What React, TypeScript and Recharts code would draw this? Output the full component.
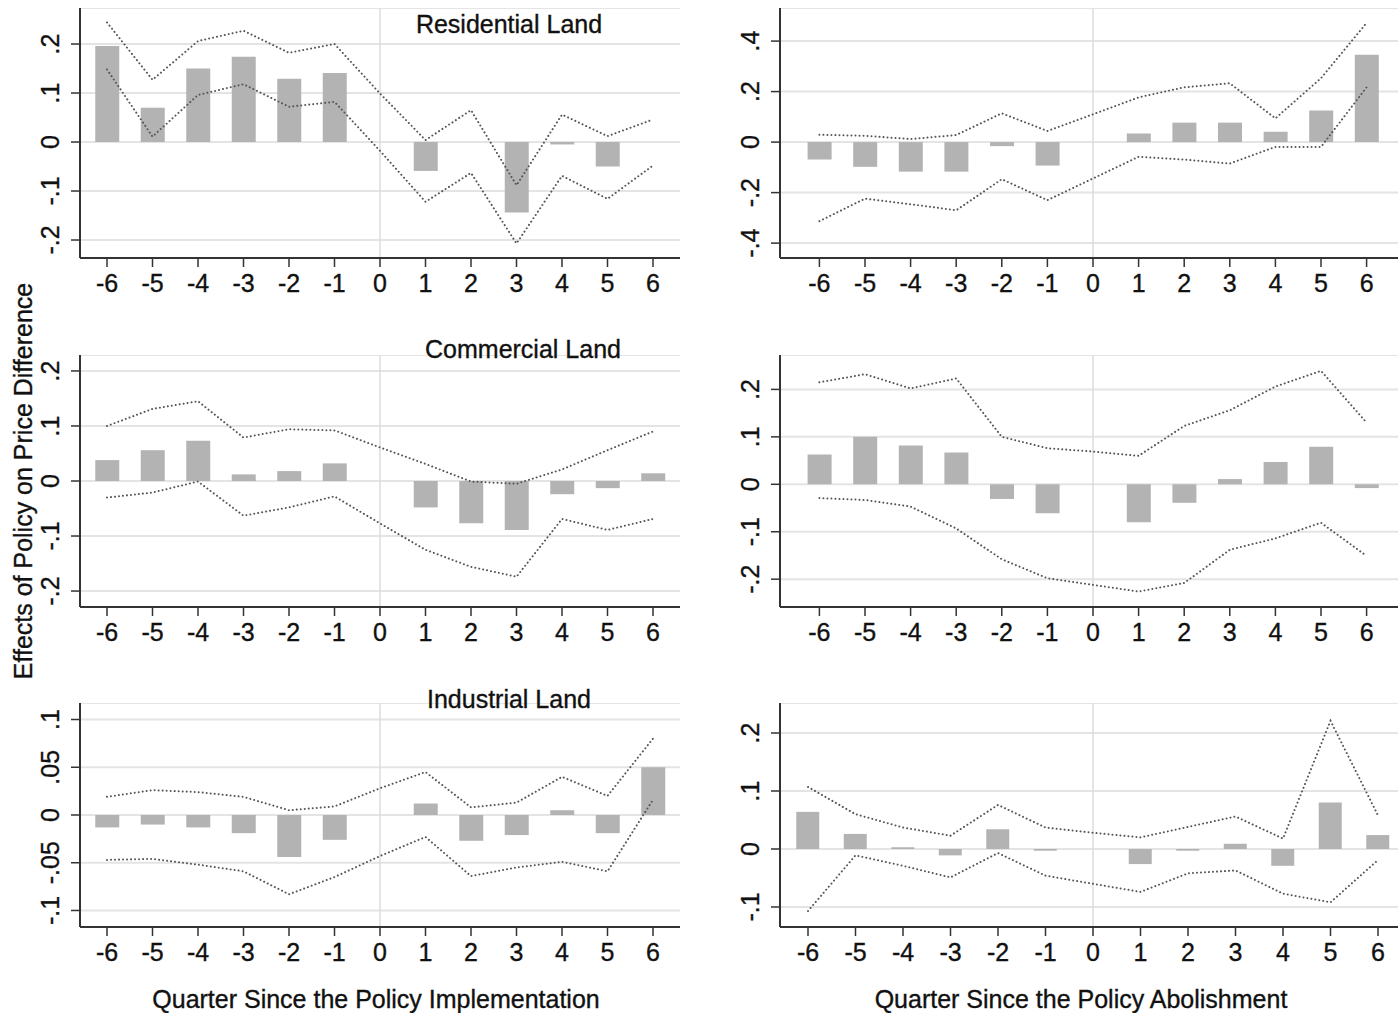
import React from 'react';
import { ComposedChart, Bar, Line, XAxis, YAxis, CartesianGrid, ReferenceLine } from 'recharts';

const quarters = [-6, -5, -4, -3, -2, -1, 0, 1, 2, 3, 4, 5, 6];

const resImplEst = [0.196, 0.070, 0.150, 0.174, 0.129, 0.141, null, -0.059, null, -0.144, -0.005, -0.050, null];
const resImplHi = [0.244, 0.127, 0.206, 0.227, 0.182, 0.200, 0.099, 0.004, 0.065, -0.088, 0.056, 0.012, 0.046];
const resImplLo = [0.148, 0.011, 0.096, 0.118, 0.072, 0.082, -0.018, -0.122, -0.063, -0.207, -0.069, -0.116, -0.048];

const resAbolEst = [-0.069, -0.098, -0.117, -0.117, -0.016, -0.093, null, 0.034, 0.077, 0.077, 0.041, 0.125, 0.346];
const resAbolHi = [0.029, 0.025, 0.012, 0.028, 0.114, 0.044, 0.110, 0.177, 0.217, 0.233, 0.094, 0.253, 0.472];
const resAbolLo = [-0.313, -0.224, -0.246, -0.270, -0.147, -0.230, -0.144, -0.058, -0.069, -0.085, -0.019, -0.019, 0.217];

const comImplEst = [0.038, 0.056, 0.073, 0.012, 0.018, 0.032, null, -0.048, -0.077, -0.089, -0.024, -0.013, 0.014];
const comImplHi = [0.100, 0.131, 0.145, 0.079, 0.094, 0.092, 0.061, 0.031, -0.001, -0.005, 0.021, 0.056, 0.090];
const comImplLo = [-0.030, -0.021, -0.001, -0.063, -0.048, -0.028, -0.077, -0.125, -0.156, -0.174, -0.069, -0.089, -0.069];

const comAbolEst = [0.063, 0.100, 0.082, 0.067, -0.031, -0.061, null, -0.080, -0.039, 0.011, 0.047, 0.079, -0.008];
const comAbolHi = [0.215, 0.232, 0.202, 0.223, 0.100, 0.076, 0.069, 0.060, 0.123, 0.156, 0.206, 0.239, 0.130];
const comAbolLo = [-0.029, -0.033, -0.047, -0.093, -0.158, -0.198, -0.212, -0.226, -0.208, -0.138, -0.114, -0.081, -0.151];

const indImplEst = [-0.013, -0.010, -0.013, -0.019, -0.044, -0.026, null, 0.012, -0.027, -0.021, 0.005, -0.019, 0.050];
const indImplHi = [0.019, 0.026, 0.024, 0.019, 0.005, 0.009, 0.028, 0.045, 0.008, 0.013, 0.040, 0.020, 0.080];
const indImplLo = [-0.047, -0.046, -0.052, -0.059, -0.083, -0.065, -0.043, -0.023, -0.064, -0.055, -0.049, -0.059, 0.016];

const indAbolEst = [0.064, 0.026, 0.003, -0.011, 0.034, -0.003, null, -0.026, -0.003, 0.009, -0.029, 0.080, 0.024];
const indAbolHi = [0.107, 0.060, 0.037, 0.023, 0.076, 0.037, 0.028, 0.020, 0.038, 0.056, 0.018, 0.221, 0.058];
const indAbolLo = [-0.107, -0.011, -0.029, -0.049, -0.007, -0.046, -0.060, -0.074, -0.042, -0.037, -0.077, -0.092, -0.019];

const ticksPointOne = [-0.2, -0.1, 0, 0.1, 0.2];
const ticksPointTwo = [-0.4, -0.2, 0, 0.2, 0.4];
const ticksPointZeroFive = [-0.1, -0.05, 0, 0.05, 0.1];
const ticksIndAbol = [-0.1, 0, 0.1, 0.2];

const panelTitles = ['Residential Land', 'Commercial Land', 'Industrial Land'];
const xTitles = ['Quarter Since the Policy Implementation', 'Quarter Since the Policy Abolishment'];
const yTitle = 'Effects of Policy on Price Difference';

const FONT = '"Liberation Sans", Arial, Helvetica, sans-serif';
const AXIS = '#333333';
const BAR = '#b3b3b3';
const CI = '#555555';
const GRID = '#e4e4e4';
const TXT = '#111111';

const fmt = (v: number) => {
  if (v === 0) return '0';
  const s = String(Math.round(v * 1000) / 1000);
  return s.replace('0.', '.');
};

const build = (est: (number | null)[], hi: number[], lo: number[]) =>
  quarters.map((q, i) => ({ q, est: est[i], hi: hi[i], lo: lo[i] }));

const YTick = (props: any) => {
  const { x, y, payload } = props;
  return (
    <text
      x={x}
      y={y}
      transform={`rotate(-90, ${x}, ${y})`}
      textAnchor="middle"
      fontFamily={FONT}
      fontSize={25}
      fill={TXT}
      stroke={TXT}
      strokeWidth={0.35}
    >
      {fmt(payload.value)}
    </text>
  );
};

const XTick = (props: any) => {
  const { x, y, payload } = props;
  return (
    <text
      x={x}
      y={y + 18}
      textAnchor="middle"
      fontFamily={FONT}
      fontSize={25}
      fill={TXT}
      stroke={TXT}
      strokeWidth={0.35}
    >
      {payload.value}
    </text>
  );
};

type PanelProps = {
  plotLeft: number;
  plotTop: number;
  plotW: number;
  plotH: number;
  pad: number;
  domain: [number, number];
  ticks: number[];
  data: any[];
  barSize: number;
};

const Y_W = 80;
const X_H = 60;

const Panel = ({ plotLeft, plotTop, plotW, plotH, pad, domain, ticks, data, barSize }: PanelProps) => (
  <div style={{ position: 'absolute', left: plotLeft - Y_W, top: plotTop }}>
    <ComposedChart
      width={Y_W + plotW}
      height={plotH + X_H}
      data={data}
      margin={{ top: 0, right: 0, bottom: 0, left: 0 }}
    >
      <CartesianGrid vertical={false} stroke={GRID} strokeWidth={2} />
      <XAxis
        dataKey="q"
        type="category"
        interval={0}
        padding={{ left: pad, right: pad }}
        height={X_H}
        tickSize={9}
        tickMargin={7}
        axisLine={{ stroke: AXIS, strokeWidth: 2 }}
        tickLine={{ stroke: AXIS, strokeWidth: 1.5 }}
        tick={<XTick />}
      />
      <YAxis
        type="number"
        domain={domain}
        ticks={ticks}
        allowDataOverflow
        width={Y_W}
        tickSize={9}
        tickMargin={12}
        axisLine={{ stroke: AXIS, strokeWidth: 2 }}
        tickLine={{ stroke: AXIS, strokeWidth: 1.5 }}
        tick={<YTick />}
        interval={0}
      />
      <ReferenceLine x={0} stroke="#dcdcdc" strokeWidth={1.5} />
      <Bar dataKey="est" fill={BAR} barSize={barSize} isAnimationActive={false} />
      <Line
        dataKey="hi"
        type="linear"
        stroke={CI}
        strokeWidth={2}
        strokeDasharray="0.01 4"
        strokeLinecap="round"
        dot={false}
        activeDot={false}
        isAnimationActive={false}
      />
      <Line
        dataKey="lo"
        type="linear"
        stroke={CI}
        strokeWidth={2}
        strokeDasharray="0.01 4"
        strokeLinecap="round"
        dot={false}
        activeDot={false}
        isAnimationActive={false}
      />
    </ComposedChart>
  </div>
);

export default function App() {
  return (
    <div
      style={{
        position: 'absolute',
        left: 0,
        top: 0,
        width: 1398,
        height: 1013,
        overflow: 'hidden',
        background: '#fff',
        fontFamily: FONT,
      }}
    >
      <Panel plotLeft={80} plotTop={8} plotW={600} plotH={250} pad={4.25}
        domain={[-0.2367, 0.2735]} ticks={ticksPointOne} data={build(resImplEst, resImplHi, resImplLo)} barSize={24} />
      <Panel plotLeft={780} plotTop={8} plotW={626} plotH={250} pad={16.6}
        domain={[-0.459, 0.531]} ticks={ticksPointTwo} data={build(resAbolEst, resAbolHi, resAbolLo)} barSize={24} />
      <Panel plotLeft={80} plotTop={355} plotW={600} plotH={252} pad={4.25}
        domain={[-0.229, 0.229]} ticks={ticksPointOne} data={build(comImplEst, comImplHi, comImplLo)} barSize={24} />
      <Panel plotLeft={780} plotTop={355} plotW={626} plotH={252} pad={16.6}
        domain={[-0.2586, 0.2725]} ticks={ticksPointOne} data={build(comAbolEst, comAbolHi, comAbolLo)} barSize={24} />
      <Panel plotLeft={80} plotTop={703} plotW={600} plotH={224} pad={4.25}
        domain={[-0.1173, 0.1173]} ticks={ticksPointZeroFive} data={build(indImplEst, indImplHi, indImplLo)} barSize={24} />
      <Panel plotLeft={780} plotTop={703} plotW={626} plotH={224} pad={4.25}
        domain={[-0.1345, 0.2517]} ticks={ticksIndAbol} data={build(indAbolEst, indAbolHi, indAbolLo)} barSize={23} />
      <svg
        width={1398}
        height={1013}
        style={{ position: 'absolute', left: 0, top: 0, pointerEvents: 'none' }}
      >
        <g fontFamily={FONT} fontSize={25} fill={TXT} stroke={TXT} strokeWidth={0.35} textAnchor="middle">
          <text x={509} y={33}>{panelTitles[0]}</text>
          <text x={523} y={358}>{panelTitles[1]}</text>
          <text x={509} y={708}>{panelTitles[2]}</text>
          <text x={376} y={1008}>{xTitles[0]}</text>
          <text x={1081} y={1008}>{xTitles[1]}</text>
          <text x={32} y={481} transform="rotate(-90, 32, 481)">{yTitle}</text>
        </g>
      </svg>
    </div>
  );
}
